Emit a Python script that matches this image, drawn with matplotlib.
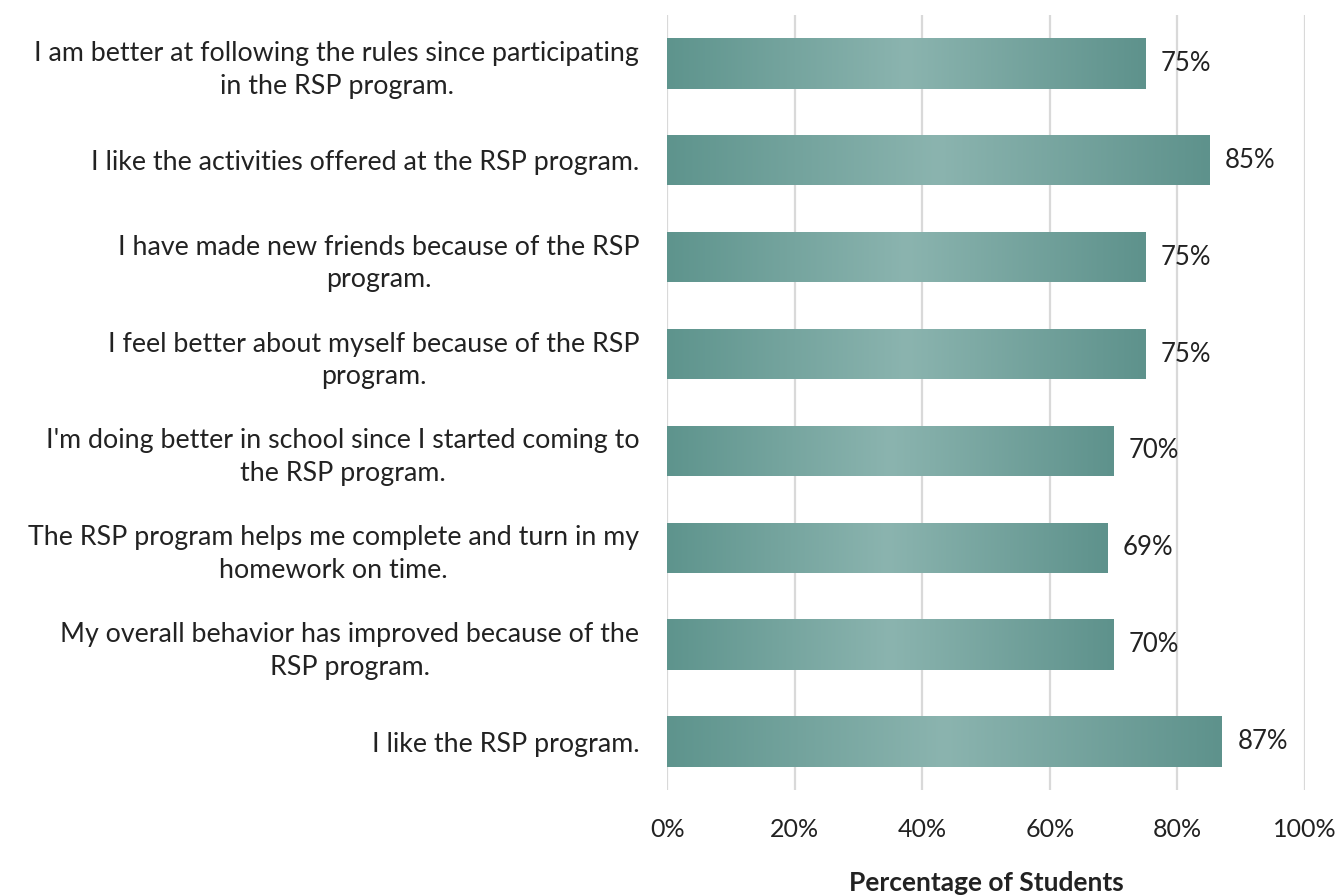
import matplotlib.pyplot as plt
import numpy as np
from matplotlib.colors import LinearSegmentedColormap
from matplotlib.ticker import PercentFormatter

plt.rcParams['font.family'] = ['Lato', 'DejaVu Sans']

statements = [
    "I like the RSP program.",
    "My overall behavior has improved because of the\nRSP program.",
    "The RSP program helps me complete and turn in my\nhomework on time.",
    "I'm doing better in school since I started coming to\nthe RSP program.",
    "I feel better about myself because of the RSP\nprogram.",
    "I have made new friends because of the RSP\nprogram.",
    "I like the activities offered at the RSP program.",
    "I am better at following the rules since participating\nin the RSP program.",
]
percent = [87, 70, 69, 70, 75, 75, 85, 75]

fig = plt.figure(figsize=(13.43, 8.96), dpi=100)
ax = fig.add_axes([0.4967, 0.1183, 0.475, 0.865])

y = np.arange(len(statements))
bars = ax.barh(y, percent, height=0.52, color='none', zorder=2)

# dark - light - dark shading along each bar
shade = LinearSegmentedColormap.from_list('teal', ['#5e948d', '#8bb4af', '#5e928c'])
grad = np.linspace(0, 1, 256).reshape(1, -1)
for b in bars:
    x0, y0 = b.get_x(), b.get_y()
    w, h = b.get_width(), b.get_height()
    im = ax.imshow(grad, cmap=shade, aspect='auto', extent=[x0, x0 + w, y0, y0 + h],
                   zorder=2, interpolation='bicubic')
    im.set_clip_path(b)

for b, v in zip(bars, percent):
    ax.text(v + 2.4, b.get_y() + b.get_height() / 2, f"{v}%", va='center', ha='left',
            fontsize=18.5, color='#222222')

ax.set_xlim(0, 100)
ax.set_ylim(-0.5, len(statements) - 0.5)
ax.set_xticks(np.arange(0, 101, 20))
ax.xaxis.set_major_formatter(PercentFormatter(decimals=0))
ax.set_yticks(y)
ax.set_yticklabels(statements, fontsize=19.3, color='#222222', ha='right',
                   multialignment='center', linespacing=1.38)
ax.tick_params(axis='both', length=0)
ax.tick_params(axis='y', pad=20)
ax.tick_params(axis='x', pad=20, labelsize=18, labelcolor='#222222')
ax.grid(axis='x', color='#d9d9d9', linewidth=1.6, zorder=0)
ax.set_axisbelow(True)
for s in ax.spines.values():
    s.set_visible(False)

ax.set_xlabel("Percentage of Students", fontsize=19, fontweight='bold', color='#222222', labelpad=22)

fig.savefig('out.png', dpi=100)
